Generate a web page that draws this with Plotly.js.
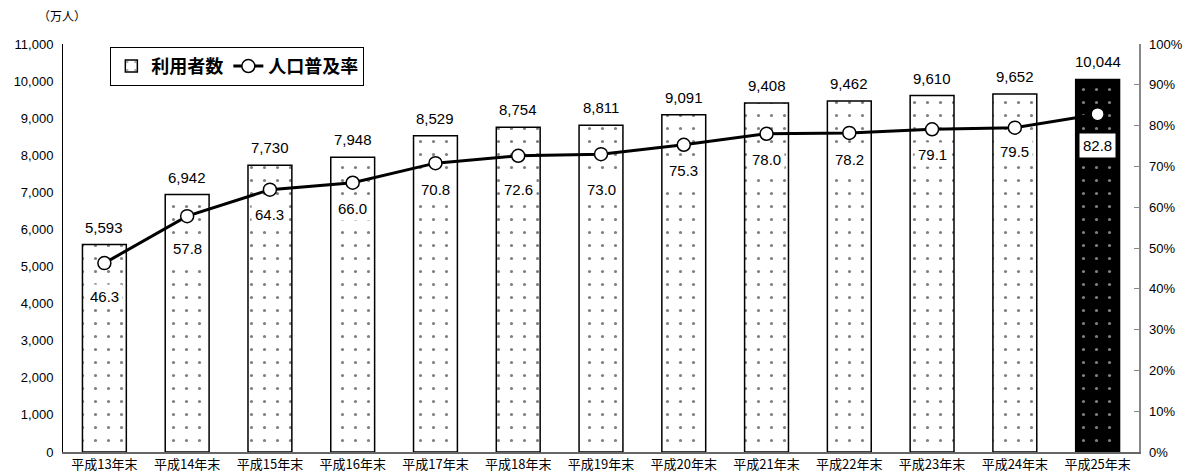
<!DOCTYPE html>
<html>
<head>
<meta charset="utf-8">
<script src="https://cdn.plot.ly/plotly-3.0.1.min.js"></script>
<style>html,body{margin:0;padding:0;background:#fff;}#chart{width:1185px;height:474px;}</style>
</head>
<body>
<div id="chart"></div>
<script>
// ---- data ----
const categories = ["平成13年末","平成14年末","平成15年末","平成16年末","平成17年末","平成18年末","平成19年末","平成20年末","平成21年末","平成22年末","平成23年末","平成24年末","平成25年末"];
const users = [5593, 6942, 7730, 7948, 8529, 8754, 8811, 9091, 9408, 9462, 9610, 9652, 10044];
const rates = [46.3, 57.8, 64.3, 66.0, 70.8, 72.6, 73.0, 75.3, 78.0, 78.2, 79.1, 79.5, 82.8];
const barName = "利用者数";
const lineName = "人口普及率";
const unitLabel = "（万人）";

// ---- styles ----
const labelDrop = [33, 32, 25, 26, 26, 34, 35, 26, 26, 27, 25, 24, 31];
const numFont = "Liberation Sans, Arial, sans-serif";
const jpFont = "Noto Sans CJK JP, sans-serif";
const last = categories.length - 1;

const barTrace = {
  type: "bar",
  name: barName,
  x: categories.slice(0, last),
  y: users.slice(0, last),
  marker: {
    color: "#ffffff",
    line: {color: "#000", width: 1.5},
    pattern: {shape: ".", fgcolor: "#000000", size: 13, solidity: 0.045, fillmode: "overlay"}
  }
};
const lastBarTrace = {
  type: "bar",
  name: barName,
  showlegend: false,
  x: categories.slice(last),
  y: users.slice(last),
  marker: {
    color: "#000000",
    line: {color: "#000", width: 1.5},
    pattern: {shape: ".", fgcolor: "#ffffff", size: 13, solidity: 0.045, fillmode: "overlay"}
  }
};
const lineTrace = {
  type: "scatter",
  mode: "lines+markers",
  name: lineName,
  x: categories,
  y: rates,
  yaxis: "y2",
  line: {color: "#000", width: 3},
  marker: {symbol: "circle", size: 13, color: "#fff", line: {color: "#000", width: 1.5}}
};

const annotations = [];
users.forEach((v, i) => {
  annotations.push({
    x: categories[i], y: v, xref: "x", yref: "y",
    text: v.toLocaleString("en-US"), showarrow: false,
    yanchor: "bottom", yshift: 7,
    font: {family: numFont, size: 15, color: "#000"}
  });
});
rates.forEach((v, i) => {
  annotations.push({
    x: categories[i], y: v, xref: "x", yref: "y2",
    text: v.toFixed(1), showarrow: false,
    yanchor: "middle", yshift: -labelDrop[i],
    bgcolor: "#fff", borderpad: 3,
    font: {family: numFont, size: 15, color: "#000"}
  });
});
annotations.push({
  x: 0, y: 1, xref: "paper", yref: "paper",
  xanchor: "center", yanchor: "bottom", xshift: -1, yshift: 18,
  text: unitLabel, showarrow: false,
  font: {family: jpFont, size: 12, color: "#000"}
});

const layout = {
  width: 1185, height: 474,
  margin: {l: 63, r: 46, t: 44, b: 22},
  paper_bgcolor: "#fff", plot_bgcolor: "#fff",
  barmode: "overlay",
  bargap: 0.47,
  showlegend: true,
  legend: {
    orientation: "h", x: 0.044, y: 0.993, xanchor: "left", yanchor: "top",
    bordercolor: "#000", borderwidth: 1, bgcolor: "#fff",
    font: {family: jpFont, size: 18, color: "#000", weight: "bold"},
    itemwidth: 30, tracegroupgap: 0
  },
  xaxis: {
    type: "category",
    categoryorder: "array", categoryarray: categories,
    range: [-0.5, categories.length - 0.5],
    showline: true, linecolor: "#666", linewidth: 1.5,
    ticks: "", showgrid: false, zeroline: false,
    tickfont: {family: jpFont, size: 13, color: "#000"}
  },
  yaxis: {
    range: [0, 11000], dtick: 1000, tickformat: ",",
    showline: true, linecolor: "#000", linewidth: 1,
    ticks: "", showgrid: false, zeroline: false,
    tickfont: {family: numFont, size: 13, color: "#000"},
    ticklabelstandoff: 6
  },
  yaxis2: {
    overlaying: "y", side: "right",
    range: [0, 100], dtick: 10, ticksuffix: "%",
    showline: true, linecolor: "#888", linewidth: 1.5,
    ticks: "inside", ticklen: 5, tickcolor: "#888",
    showgrid: false, zeroline: false,
    tickfont: {family: numFont, size: 13, color: "#000"},
    ticklabelstandoff: 6
  },
  annotations: annotations
};

Plotly.newPlot("chart", [barTrace, lastBarTrace, lineTrace], layout, {displayModeBar: false, staticPlot: true});
</script>
</body>
</html>
